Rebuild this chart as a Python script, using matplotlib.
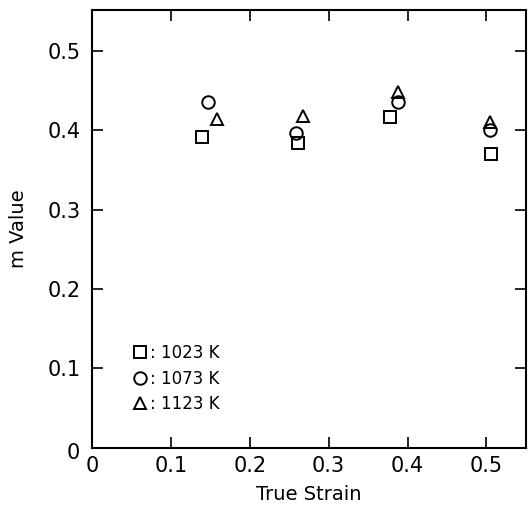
"""
True strain vs m value for three test temperatures.
"""

import matplotlib
matplotlib.use('Agg')
from matplotlib import pyplot as plt

# data
strain_1023 = [0.139, 0.261, 0.378, 0.506]
m_1023 = [0.391, 0.384, 0.416, 0.370]

strain_1073 = [0.147, 0.258, 0.388, 0.504]
m_1073 = [0.435, 0.397, 0.435, 0.400]

strain_1123 = [0.158, 0.268, 0.388, 0.504]
m_1123 = [0.414, 0.418, 0.448, 0.410]

x_ticks = [0, 0.1, 0.2, 0.3, 0.4, 0.5]
x_tick_labels = ['0', '0.1', '0.2', '0.3', '0.4', '0.5']
y_ticks = [0, 0.1, 0.2, 0.3, 0.4, 0.5]
y_tick_labels = ['', '0.1', '0.2', '0.3', '0.4', '0.5']


def main():
    plt.rcParams['font.family'] = ['DejaVu Sans']
    fig = plt.figure(figsize=(5.29, 5.13), dpi=100)
    ax = fig.add_axes([0.174, 0.127, 0.820, 0.853])

    style = dict(linestyle='none', markerfacecolor='none',
                 markeredgecolor='k', markeredgewidth=1.4, markersize=9)
    ax.plot(strain_1023, m_1023, marker='s', label=': 1023 K', **style)
    ax.plot(strain_1073, m_1073, marker='o', label=': 1073 K', **style)
    ax.plot(strain_1123, m_1123, marker='^', label=': 1123 K', **style)

    ax.set_xlim(0, 0.55)
    ax.set_ylim(0, 0.551)
    ax.set_xticks(x_ticks)
    ax.set_xticklabels(x_tick_labels)
    ax.set_yticks(y_ticks)
    ax.set_yticklabels(y_tick_labels)
    ax.tick_params(direction='in', length=8, width=1.2, top=True, right=True,
                   labelsize=15)
    ax.tick_params(axis='x', pad=6)
    ax.tick_params(axis='y', pad=8)
    # y の 0 は原点より少し下に置かれている
    ax.annotate('0', xy=(0, 0), xycoords='axes fraction', xytext=(-9, -4),
                textcoords='offset points', ha='right', va='center',
                fontsize=15)
    for spine in ax.spines.values():
        spine.set_linewidth(1.5)

    ax.set_xlabel('True Strain', fontsize=14, labelpad=6)
    ax.set_ylabel('m Value', fontsize=14, labelpad=14)

    ax.legend(loc='lower left', bbox_to_anchor=(0.075, 0.06), frameon=False,
              fontsize=12, handlelength=0.8, handletextpad=0.2,
              labelspacing=0.45, borderpad=0)

    fig.savefig('out.png', dpi=100)


if __name__ == '__main__':
    main()
